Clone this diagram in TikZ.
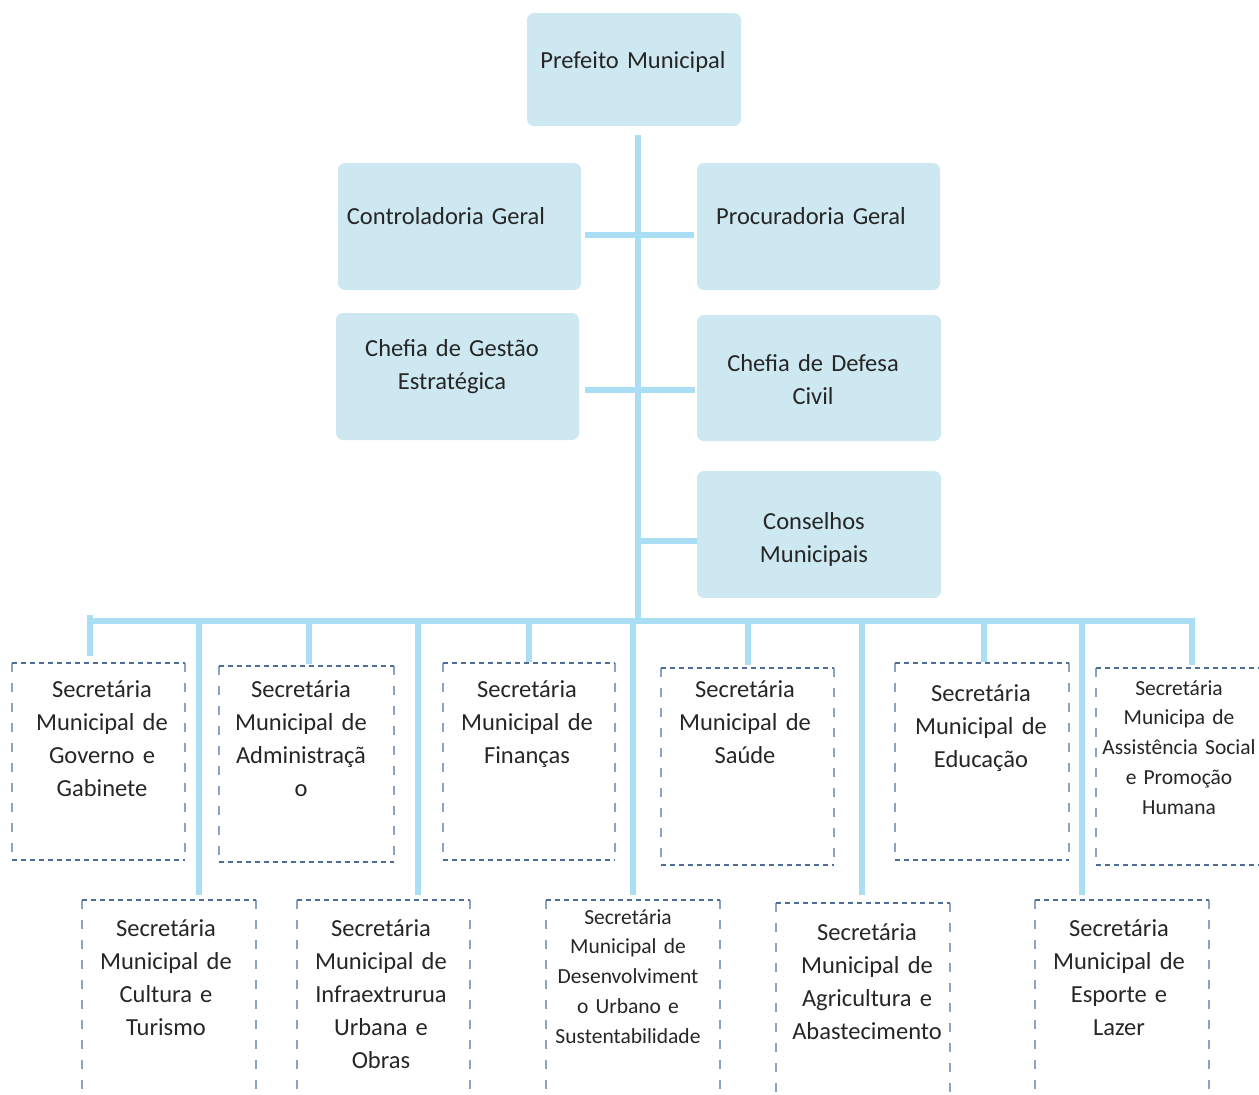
\documentclass[tikz,border=0pt]{standalone}
\usepackage{fontspec}
\setmainfont{Carlito}
\usetikzlibrary{fit}

\definecolor{boxfill}{HTML}{CDE8F1}
\definecolor{linkc}{HTML}{AADEF5}
\definecolor{txtc}{HTML}{262626}
\definecolor{hdashc}{HTML}{4E6E98}
\definecolor{vdashc}{HTML}{8AA3C4}

\tikzset{
  unit/.style={fill=boxfill, rounded corners=7pt, inner sep=0pt},
  link/.style={draw=linkc, line width=6.5pt},
  lbl/.style={text=txtc, align=center, text width=230pt, inner sep=0pt, anchor=base,
              font=\fontsize{24.5}{33}\selectfont},
  lblsmall/.style={lbl, font=\fontsize{21.5}{29.8}\selectfont},
  hdash/.style={draw=hdashc, line width=1.9pt, dash pattern=on 5pt off 4pt},
  vdash/.style={draw=vdashc, line width=1.6pt, dash pattern=on 9pt off 11pt},
}

% dashed secretariat frame: name, left, top, right, bottom
\newcommand\secframe[5]{%
  \path (#2,#3) coordinate (#1-nw) (#4,#5) coordinate (#1-se);
  \node[fit=(#1-nw)(#1-se), inner sep=0pt] (#1) {};
  \draw[vdash] (#1.north west) -- (#1.south west);
  \draw[vdash] (#1.north east) -- (#1.south east);
  \draw[hdash] (#1.north west) -- (#1.north east);
  \draw[hdash] (#1.south west) -- (#1.south east);
}

\begin{document}
\begin{tikzpicture}[x=1pt, y=-1pt]
\clip (0,0) rectangle (1259,1095);
\useasboundingbox (0,0) rectangle (1259,1095);

% ---- upper units ----
\node[unit, minimum width=214pt, minimum height=113pt] (pm)  at (634,69.5) {};
\node[unit, minimum width=243pt, minimum height=127pt] (cg)  at (459.5,226.5) {};
\node[unit, minimum width=243pt, minimum height=127pt] (pg)  at (818.5,226.5) {};
\node[unit, minimum width=243pt, minimum height=127pt] (cge) at (457.5,376.5) {};
\node[unit, minimum width=244pt, minimum height=126pt] (cdc) at (819,378) {};
\node[unit, minimum width=244pt, minimum height=127pt] (cm)  at (819,534.5) {};

\node[lbl] (pmt)  at (633,68)  {Prefeito Municipal};
\node[lbl] (cgt)  at (446,224) {Controladoria Geral};
\node[lbl] (pgt)  at (811,224) {Procuradoria Geral};
\node[lbl] (cget) at (452,356) {Chefia de Gestão\\Estratégica};
\node[lbl] (cdct) at (813,371) {Chefia de Defesa\\Civil};
\node[lbl] (cmt)  at (814,529) {Conselhos\\Municipais};

% ---- trunk, side bars and bus ----
\coordinate (hub)  at (638,621);
\coordinate (j3)   at (638,541);
\coordinate (busL) at (88,621);
\coordinate (busR) at (1195,621);

\draw[link] ([xshift=4pt,yshift=-9pt]pm.south) -- (hub);
\draw[link] ([xshift=4pt,yshift=-8.5pt]cg.east) -- ([xshift=-3pt,yshift=-8.5pt]pg.west);
\draw[link] ([xshift=6pt,yshift=-13.5pt]cge.east) -- ([xshift=-2pt,yshift=-12pt]cdc.west);
\draw[link] (j3) -- (cm.west |- j3);
\draw[link] (busL) -- (busR);

% ---- secretariat frames ----
\secframe{s1}{12}{663}{185}{860}
\secframe{s2}{219}{666}{394}{862}
\secframe{s3}{443}{663}{615}{860}
\secframe{s4}{661}{668}{834}{865}
\secframe{s5}{895}{663}{1069}{860}
\secframe{s6}{1096}{668}{1268}{865}
\secframe{s7}{82}{900}{256}{1110}
\secframe{s8}{297}{900}{470}{1110}
\secframe{s9}{546}{900}{720}{1110}
\secframe{s10}{776}{903}{950}{1110}
\secframe{s11}{1035}{900}{1209}{1110}

% ---- drops from the bus ----
\coordinate (d1)  at (90,621);
\coordinate (d2)  at (309,621);
\coordinate (d3)  at (529,621);
\coordinate (d4)  at (748,621);
\coordinate (d5)  at (984,621);
\coordinate (d6)  at (1192,621);
\coordinate (d7)  at (199,621);
\coordinate (d8)  at (418,621);
\coordinate (d9)  at (633,621);
\coordinate (d10) at (862,621);
\coordinate (d11) at (1082,621);

\draw[link, shorten <=-6pt, shorten >=7pt] (d1) -- (d1 |- s1.north);
\draw[link, shorten <=-3pt, shorten >=2pt] (d2) -- (d2 |- s2.north);
\draw[link, shorten <=-3pt, shorten >=1pt] (d3) -- (d3 |- s3.north);
\draw[link, shorten <=-3pt, shorten >=3pt] (d4) -- (d4 |- s4.north);
\draw[link, shorten <=-3pt, shorten >=1pt] (d5) -- (d5 |- s5.north);
\draw[link, shorten <=-3.3pt, shorten >=3pt] (d6) -- (d6 |- s6.north);
\draw[link, shorten <=-3pt, shorten >=5pt] (d7) -- (d7 |- s7.north);
\draw[link, shorten <=-3pt, shorten >=5pt] (d8) -- (d8 |- s8.north);
\draw[link, shorten <=-3pt, shorten >=5pt] (d9) -- (d9 |- s9.north);
\draw[link, shorten <=-3pt, shorten >=8pt] (d10) -- (d10 |- s10.north);
\draw[link, shorten <=-3pt, shorten >=5pt] (d11) -- (d11 |- s11.north);

% ---- secretariat names ----
\node[lbl] (s1t) at (102,697) {Secretária\\Municipal de\\Governo e\\Gabinete};
\node[lbl] (s2t) at (301,697) {Secretária\\Municipal de\\Administraçã\\o};
\node[lbl] (s3t) at (527,697) {Secretária\\Municipal de\\Finanças};
\node[lbl] (s4t) at (745,697) {Secretária\\Municipal de\\Saúde};
\node[lbl] (s5t) at (981,701) {Secretária\\Municipal de\\Educação};
\node[lblsmall] (s6t) at (1179,695) {Secretária\\Municipa de\\Assistência Social\\e Promoção\\Humana};
\node[lbl] (s7t) at (166,936) {Secretária\\Municipal de\\Cultura e\\Turismo};
\node[lbl] (s8t) at (381,936) {Secretária\\Municipal de\\Infraextrurua\\Urbana e\\Obras};
\node[lblsmall] (s9t) at (628,924) {Secretária\\Municipal de\\Desenvolviment\\o Urbano e\\Sustentabilidade};
\node[lbl] (s10t) at (867,940) {Secretária\\Municipal de\\Agricultura e\\Abastecimento};
\node[lbl] (s11t) at (1119,936) {Secretária\\Municipal de\\Esporte e\\Lazer};
\end{tikzpicture}
\end{document}
